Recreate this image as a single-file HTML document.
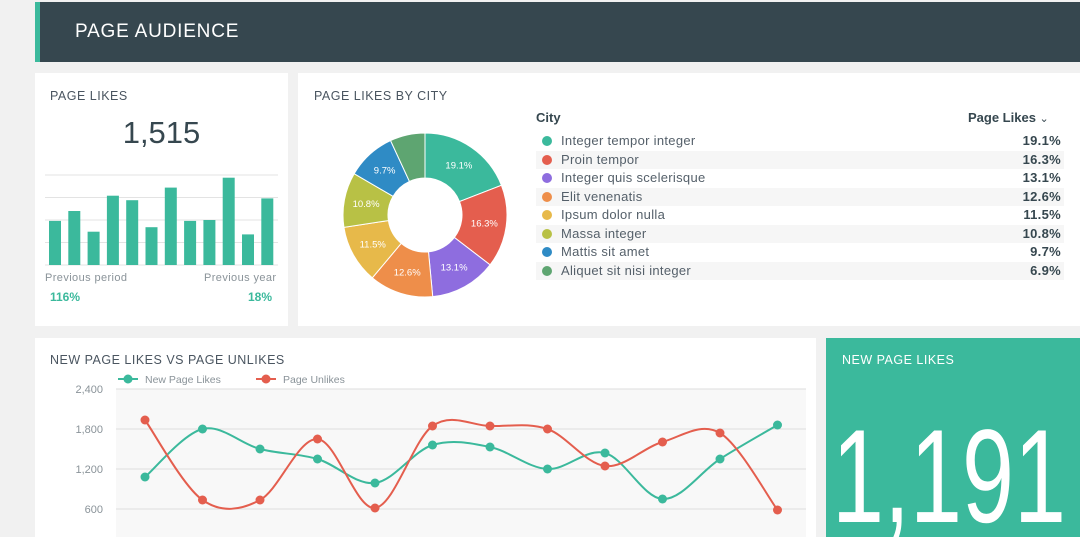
<!DOCTYPE html>
<html><head><meta charset="utf-8"><style>
body{margin:0;width:1080px;height:537px;background:#f1f1f1;font-family:"Liberation Sans",sans-serif;overflow:hidden;position:relative}
.abs{position:absolute}
.card{position:absolute;background:#fff}
.t{position:absolute;font-size:12.5px;color:#4a5560;letter-spacing:0.5px}
</style></head><body>
<div class="abs" style="left:35px;top:2px;width:1045px;height:60px;background:#36474f"></div>
<div class="abs" style="left:35px;top:2px;width:5px;height:60px;background:#3bb99c"></div>
<div class="abs" style="left:75px;top:21px;font-size:19px;color:#fff;letter-spacing:0.8px">PAGE AUDIENCE</div>

<div class="card" style="left:35px;top:73px;width:253px;height:253px"></div>
<div class="t" style="left:50px;top:89px">PAGE LIKES</div>
<div class="abs" style="left:35px;width:253px;text-align:center;top:115px;font-size:31px;color:#36474f">1,515</div>
<svg class="abs" style="left:0;top:0" width="300" height="330" id="barsvg"></svg>
<div class="abs" style="left:45px;top:272px;font-size:11px;color:#8a9399;letter-spacing:0.4px">Previous period</div>
<div class="abs" style="left:204px;top:272px;font-size:11px;color:#8a9399;letter-spacing:0.4px">Previous year</div>
<div class="abs" style="left:50px;top:290px;font-size:12px;font-weight:bold;color:#3bb99c">116%</div>
<div class="abs" style="left:248px;top:290px;font-size:12px;font-weight:bold;color:#3bb99c">18%</div>

<div class="card" style="left:298px;top:73px;width:782px;height:253px"></div>
<div class="t" style="left:314px;top:89px">PAGE LIKES BY CITY</div>
<svg class="abs" style="left:0;top:0" width="520" height="330" id="donut"></svg>
<div class="abs" style="left:536px;top:110px;font-size:13px;font-weight:bold;color:#36474f">City</div>
<div class="abs" style="left:968px;top:110px;font-size:13px;font-weight:bold;color:#36474f">Page Likes <span style="font-weight:normal;font-size:11px">&#8964;</span></div>
<div id="legend"></div>

<div class="card" style="left:35px;top:338px;width:781px;height:199px"></div>
<div class="t" style="left:50px;top:353px">NEW PAGE LIKES VS PAGE UNLIKES</div>
<svg class="abs" style="left:0;top:0" width="820" height="537" id="linesvg"></svg>

<div class="abs" style="left:826px;top:338px;width:254px;height:199px;background:#3bb99c"></div>
<div class="t" style="left:842px;top:353px;color:#fff">NEW PAGE LIKES</div>
<svg class="abs" style="left:826px;top:338px" width="254" height="199"><text x="6" y="184" font-family="Liberation Sans" font-size="133" fill="#fff" textLength="234" lengthAdjust="spacingAndGlyphs">1,191</text></svg>

<script>
const NS='http://www.w3.org/2000/svg';
function mk(p,tag,a){const e=document.createElementNS(NS,tag);for(const k in a)e.setAttribute(k,a[k]);p.appendChild(e);return e;}
// bar chart
const barValues=[49,60,37,77,72,42,86,49,50,97,34,74];
const barMax=100;
const bs=document.getElementById('barsvg');
[0,25,50,75,100].forEach(v=>{const y=265-v/barMax*90;const l=mk(bs,'line',{x1:45,x2:278,y1:y,y2:y,stroke:'#e3e3e3','stroke-width':1});

});
barValues.forEach((v,i)=>{const h=v/barMax*90;const r=mk(bs,'rect',{x:49+i*19.3,y:265-h,width:12,height:h,fill:'#3bb99c'});

});
// donut
const cities=['Integer tempor integer','Proin tempor','Integer quis scelerisque','Elit venenatis','Ipsum dolor nulla','Massa integer','Mattis sit amet','Aliquet sit nisi integer'];
const shares=[19.1,16.3,13.1,12.6,11.5,10.8,9.7,6.9];
const colors=['#3bb99c','#e45e4e','#8e6ddf','#ee8e4a','#e7b94a','#b8c145','#2f8bc5','#5ea571'];
const ds=document.getElementById('donut');
const cx=425,cy=215,R=82,r0=37;let tot=shares.reduce((a,b)=>a+b,0),acc=0;
shares.forEach((s,i)=>{const a0=acc/tot*2*Math.PI,a1=(acc+s)/tot*2*Math.PI;acc+=s;
const p=(a,rr)=>[cx+rr*Math.sin(a),cy-rr*Math.cos(a)];const lg=(a1-a0)>Math.PI?1:0;
const [x0,y0]=p(a0,R),[x1,y1]=p(a1,R),[x2,y2]=p(a1,r0),[x3,y3]=p(a0,r0);
const path=mk(ds,'path',{d:`M${x0},${y0}A${R},${R} 0 ${lg} 1 ${x1},${y1}L${x2},${y2}A${r0},${r0} 0 ${lg} 0 ${x3},${y3}Z`,fill:colors[i],stroke:'#fff','stroke-width':1});


if(s>8){const [tx,ty]=p((a0+a1)/2,60);const t=mk(ds,'text',{x:tx,y:ty+3,'text-anchor':'middle','font-size':9.5,fill:'#fff','font-family':'Liberation Sans'});t.textContent=s.toFixed(1)+'%';

}
});
const lgd=document.getElementById('legend');
cities.forEach((c,i)=>{const y=132+i*18.5;const row=document.createElement('div');


row.style.cssText=`position:absolute;left:536px;top:${y}px;width:528px;height:18px;background:${i%2?'#f6f6f6':'transparent'};font-size:13px;color:#55606a;letter-spacing:0.3px`;
row.innerHTML=`<span style="position:absolute;left:6px;top:4px;width:10px;height:10px;border-radius:50%;background:${colors[i]}"></span><span style="position:absolute;left:25px;top:1px">${c}</span><span style="position:absolute;right:3px;top:1px;font-weight:bold;color:#36474f">${shares[i].toFixed(1)}%</span>`;
lgd.appendChild(row);});
// line chart
const likes=[1080,1800,1500,1350,990,1560,1530,1200,1440,750,1350,1860];
const unlikes=[1935,735,735,1650,615,1845,1845,1800,1245,1605,1740,585];
const yTicks=[600,1200,1800,2400];
const ls=document.getElementById('linesvg');
const X=i=>145+i*57.5, Y=v=>549-v/600*40;
mk(ls,'rect',{x:116,y:389,width:690,height:148,fill:'#f8f8f8'});
yTicks.forEach(v=>{mk(ls,'line',{x1:116,x2:806,y1:Y(v),y2:Y(v),stroke:'#dedede'});
const t=mk(ls,'text',{x:103,y:Y(v)+4,'text-anchor':'end','font-size':11,fill:'#8a9399','font-family':'Liberation Sans'});t.textContent=v.toLocaleString('en-US');

});
function curve(vals){const pts=vals.map((v,i)=>[X(i),Y(v)]);let d=`M${pts[0][0]},${pts[0][1]}`;
for(let i=0;i<pts.length-1;i++){const p0=pts[i-1]||pts[i],p1=pts[i],p2=pts[i+1],p3=pts[i+2]||p2;
d+=`C${p1[0]+(p2[0]-p0[0])/6},${p1[1]+(p2[1]-p0[1])/6} ${p2[0]-(p3[0]-p1[0])/6},${p2[1]-(p3[1]-p1[1])/6} ${p2[0]},${p2[1]}`;}return d;}
[[likes,'#3bb99c','new-page-likes'],[unlikes,'#e45e4e','page-unlikes']].forEach(([vals,col,nm])=>{
const p=mk(ls,'path',{d:curve(vals),fill:'none',stroke:col,'stroke-width':2});


vals.forEach((v,i)=>{const c=mk(ls,'circle',{cx:X(i),cy:Y(v),r:4.5,fill:col});

});});
[[118,'#3bb99c','New Page Likes','legend-new-page-likes'],[256,'#e45e4e','Page Unlikes','legend-page-unlikes']].forEach(([x,col,lab,nm])=>{
const g=mk(ls,'g',{});


mk(g,'line',{x1:x,x2:x+20,y1:379,y2:379,stroke:col,'stroke-width':2});mk(g,'circle',{cx:x+10,cy:379,r:4.5,fill:col});
const t=mk(g,'text',{x:x+27,y:383,'font-size':10.5,fill:'#8a9399','font-family':'Liberation Sans'});t.textContent=lab;});
</script>
</body></html>
